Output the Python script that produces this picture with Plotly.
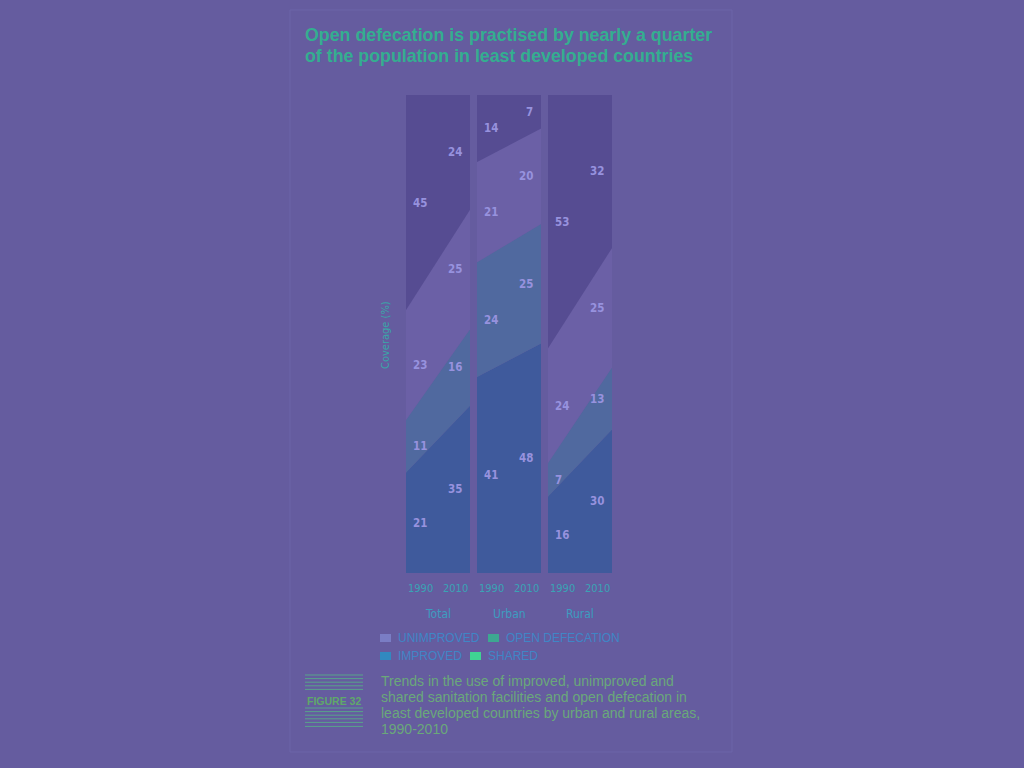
import numpy as np
import plotly.graph_objects as go

# ---- data ----
groups = ["Total", "Urban", "Rural"]
years = [1990, 2010]
categories = ["IMPROVED", "SHARED", "UNIMPROVED", "OPEN DEFECATION"]  # bottom -> top
improved = {"Total": [21, 35], "Urban": [41, 48], "Rural": [16, 30]}
shared = {"Total": [11, 16], "Urban": [24, 25], "Rural": [7, 13]}
unimproved = {"Total": [23, 25], "Urban": [21, 20], "Rural": [24, 25]}
open_defecation = {"Total": [45, 24], "Urban": [14, 7], "Rural": [53, 32]}

title_lines = ["Open defecation is practised by nearly a quarter",
               "of the population in least developed countries"]
caption_lines = ["Trends in the use of improved, unimproved and",
                 "shared sanitation facilities and open defecation in",
                 "least developed countries by urban and rural areas,",
                 "1990-2010"]
legend_rows = [["UNIMPROVED", "OPEN DEFECATION"], ["IMPROVED", "SHARED"]]

# ---- style ----
BG = "#655c9f"
fill_colors = {"IMPROVED": "#3f5a9c", "SHARED": "#50699f",
               "UNIMPROVED": "#6b60a6", "OPEN DEFECATION": "#564c92"}
swatch_colors = {"UNIMPROVED": "#7a7dc4", "OPEN DEFECATION": "#3da791",
                 "IMPROVED": "#3189c0", "SHARED": "#3fd493"}
NARROW = "Liberation Sans Narrow, DejaVu Sans Condensed, Arial Narrow, sans-serif"
SANS = "Liberation Sans, Arial, Helvetica, sans-serif"
W, H = 1024, 768

def px(x):
    return x / W

def py(y):
    return 1 - y / H

series = {"IMPROVED": improved, "SHARED": shared,
          "UNIMPROVED": unimproved, "OPEN DEFECATION": open_defecation}

panel_px = [(406, 470), (477, 541), (548, 612)]
ydom = [py(573), py(95)]

fig = go.Figure()
annotations = []
layout_axes = {}

for i, g in enumerate(groups):
    sfx = "" if i == 0 else str(i + 1)
    xa, ya = "x" + sfx, "y" + sfx
    layout_axes["xaxis" + sfx] = dict(domain=[px(panel_px[i][0]), px(panel_px[i][1])],
                                      range=[1990, 2010], visible=False, anchor=ya,
                                      fixedrange=True)
    layout_axes["yaxis" + sfx] = dict(domain=ydom, range=[0, 100], visible=False,
                                      anchor=xa, fixedrange=True)
    cum = np.zeros(2)
    for cat in categories:
        vals = np.array(series[cat][g], dtype=float)
        fig.add_trace(go.Scatter(x=years, y=vals, stackgroup=g.lower(), mode="lines",
                                 line=dict(width=0), fillcolor=fill_colors[cat],
                                 name=cat, showlegend=False, xaxis=xa, yaxis=ya,
                                 hoverinfo="skip"))
        mids = cum + vals / 2
        for j, yr in enumerate(years):
            annotations.append(dict(x=yr, y=mids[j], xref=xa, yref=ya,
                                    text="<b>" + str(int(vals[j])) + "</b>",
                                    showarrow=False,
                                    xanchor="left" if j == 0 else "right",
                                    xshift=5 if j == 0 else -6,
                                    font=dict(family=NARROW, size=11.5, color="#9792de")))
        cum = cum + vals
    # year labels
    for j, yr in enumerate(years):
        annotations.append(dict(x=yr, y=py(588), xref=xa, yref="paper",
                                text=str(yr), showarrow=False,
                                xanchor="left" if j == 0 else "right",
                                yanchor="middle",
                                font=dict(family=NARROW, size=11, color="#3aa3b5")))
    annotations.append(dict(x=(panel_px[i][0] + panel_px[i][1]) / 2 / W, y=py(614),
                            xref="paper", yref="paper", text=g, showarrow=False,
                            xanchor="center", yanchor="middle",
                            font=dict(family=NARROW, size=12, color="#3d9cc0")))

# y title
annotations.append(dict(x=px(385), y=py(335), xref="paper", yref="paper",
                        text="Coverage (%)", textangle=-90, showarrow=False,
                        xanchor="center", yanchor="middle",
                        font=dict(family=NARROW, size=11, color="#3aa5a8")))

# title
for k, line in enumerate(title_lines):
    annotations.append(dict(x=px(303), y=py(35 + 21 * k), xref="paper", yref="paper",
                            text="<b>" + line + "</b>", showarrow=False,
                            xanchor="left", yanchor="middle",
                            font=dict(family=SANS, size=17.8, color="#34ae90")))

# caption
for k, line in enumerate(caption_lines):
    annotations.append(dict(x=px(379), y=py(681 + 16 * k), xref="paper", yref="paper",
                            text=line, showarrow=False, xanchor="left", yanchor="middle",
                            font=dict(family=SANS, size=14, color="#6aa87a")))
annotations.append(dict(x=px(305), y=py(701), xref="paper", yref="paper",
                        text="<b>FIGURE 32</b>", showarrow=False, xanchor="left",
                        yanchor="middle",
                        font=dict(family=SANS, size=10.5, color="#5fa86a")))

shapes = []
# card outline
shapes.append(dict(type="rect", xref="paper", yref="paper",
                   x0=px(290), x1=px(732), y0=py(752), y1=py(10),
                   line=dict(color="#6d65a8", width=1), fillcolor="rgba(0,0,0,0)",
                   layer="below"))
# figure label rules
for yy in [675, 678.6, 682.2, 685.8, 689.4, 708, 711.6, 715.2, 718.8, 722.4, 726.4]:
    shapes.append(dict(type="line", xref="paper", yref="paper",
                       x0=px(305), x1=px(363), y0=py(yy), y1=py(yy),
                       line=dict(color="#58a48a", width=1)))

# legend (manual, two rows)
legend_x = [[380, 488], [380, 470]]
for r, row in enumerate(legend_rows):
    yc = 638 + 18 * r
    for c, name in enumerate(row):
        x0 = legend_x[r][c]
        shapes.append(dict(type="rect", xref="paper", yref="paper",
                           x0=px(x0), x1=px(x0 + 11), y0=py(yc + 4), y1=py(yc - 4),
                           line=dict(width=0), fillcolor=swatch_colors[name]))
        annotations.append(dict(x=px(x0 + 16), y=py(yc), xref="paper", yref="paper",
                                text=name, showarrow=False, xanchor="left",
                                yanchor="middle",
                                font=dict(family=SANS, size=12, color="#3f86c6")))

fig.update_layout(width=W, height=H, margin=dict(l=0, r=0, t=0, b=0),
                  paper_bgcolor=BG, plot_bgcolor=BG, showlegend=False,
                  annotations=annotations, shapes=shapes, **layout_axes)

fig.write_html("out.html", config={"displayModeBar": False})
